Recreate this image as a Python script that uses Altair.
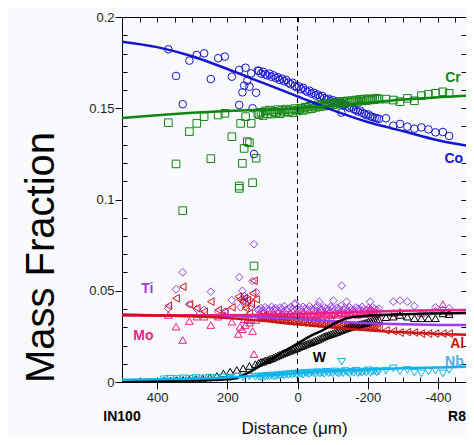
import altair as alt
import pandas as pd

# ---------------- data ----------------
elements = ["Co", "Cr", "Ti", "Mo", "Al", "W", "Nb"]
colors = ["#1414d2", "#128412", "#9b3cf0", "#ec1f86", "#cc1414", "#000000", "#10b4ec"]
shapes = ["circle", "square", "diamond", "triangle-up", "triangle-left", "triangle-up", "triangle-down"]

# dense measurement region (distance, um)
dense_d = [110, 104, 98, 92, 86, 80, 74, 68, 62, 56,
           50, 44, 38, 32, 26, 20, 14, 8, 2, -4,
           -10, -16, -22, -28, -34, -40, -46, -52, -58, -64,
           -70, -76, -82, -88, -94, -100, -106, -112, -118, -124,
           -130, -136, -142, -148, -154, -160, -166, -172, -178, -184,
           -190, -196, -202, -208, -214, -220, -226, -232]

co_dense = [0.1705, 0.1690, 0.1700, 0.1685, 0.1680, 0.1690, 0.1672, 0.1680, 0.1665, 0.1670,
            0.1655, 0.1662, 0.1648, 0.1655, 0.1640, 0.1632, 0.1640, 0.1622, 0.1615, 0.1620,
            0.1605, 0.1612, 0.1598, 0.1590, 0.1596, 0.1580, 0.1585, 0.1570, 0.1575, 0.1562,
            0.1568, 0.1555, 0.1548, 0.1552, 0.1540, 0.1545, 0.1532, 0.1538, 0.1525, 0.1530,
            0.1518, 0.1522, 0.1510, 0.1502, 0.1508, 0.1495, 0.1490, 0.1482, 0.1488, 0.1475,
            0.1470, 0.1462, 0.1466, 0.1455, 0.1452, 0.1448, 0.1445, 0.1442]
cr_dense = [0.1465, 0.1478, 0.1460, 0.1485, 0.1470, 0.1490, 0.1468, 0.1482, 0.1475, 0.1492,
            0.1470, 0.1488, 0.1478, 0.1495, 0.1480, 0.1490, 0.1475, 0.1498, 0.1485, 0.1492,
            0.1500, 0.1488, 0.1505, 0.1495, 0.1510, 0.1498, 0.1512, 0.1505, 0.1518, 0.1508,
            0.1520, 0.1512, 0.1525, 0.1515, 0.1528, 0.1520, 0.1530, 0.1522, 0.1535, 0.1525,
            0.1538, 0.1530, 0.1540, 0.1532, 0.1542, 0.1535, 0.1545, 0.1538, 0.1548, 0.1540,
            0.1550, 0.1542, 0.1552, 0.1545, 0.1550, 0.1548, 0.1555, 0.1550]
ti_dense = [0.0398, 0.0405, 0.0392, 0.0410, 0.0400, 0.0395, 0.0412, 0.0398, 0.0405, 0.0390,
            0.0408, 0.0400, 0.0415, 0.0395, 0.0402, 0.0410, 0.0398, 0.0425, 0.0400, 0.0408,
            0.0395, 0.0412, 0.0402, 0.0398, 0.0415, 0.0400, 0.0392, 0.0408, 0.0420, 0.0400,
            0.0395, 0.0410, 0.0402, 0.0398, 0.0412, 0.0405, 0.0395, 0.0408, 0.0400, 0.0418,
            0.0398, 0.0405, 0.0392, 0.0410, 0.0400, 0.0395, 0.0408, 0.0402, 0.0398, 0.0412,
            0.0400, 0.0395, 0.0405, 0.0398, 0.0410, 0.0400, 0.0395, 0.0402]
mo_dense = [0.0372, 0.0365, 0.0378, 0.0360, 0.0370, 0.0375, 0.0362, 0.0372, 0.0368, 0.0380,
            0.0365, 0.0372, 0.0360, 0.0375, 0.0368, 0.0378, 0.0362, 0.0370, 0.0375, 0.0365,
            0.0372, 0.0380, 0.0368, 0.0375, 0.0362, 0.0370, 0.0378, 0.0365, 0.0372, 0.0382,
            0.0368, 0.0375, 0.0370, 0.0380, 0.0365, 0.0372, 0.0378, 0.0368, 0.0375, 0.0382,
            0.0370, 0.0378, 0.0365, 0.0380, 0.0372, 0.0385, 0.0375, 0.0368, 0.0380, 0.0372,
            0.0385, 0.0375, 0.0380, 0.0370, 0.0388, 0.0378, 0.0382, 0.0375]
al_dense = [0.0358, 0.0350, 0.0362, 0.0348, 0.0355, 0.0345, 0.0352, 0.0342, 0.0350, 0.0340,
            0.0348, 0.0338, 0.0345, 0.0335, 0.0342, 0.0332, 0.0340, 0.0330, 0.0338, 0.0328,
            0.0335, 0.0326, 0.0332, 0.0324, 0.0330, 0.0322, 0.0328, 0.0320, 0.0326, 0.0318,
            0.0324, 0.0316, 0.0322, 0.0315, 0.0320, 0.0313, 0.0318, 0.0312, 0.0316, 0.0310,
            0.0315, 0.0309, 0.0313, 0.0308, 0.0312, 0.0306, 0.0310, 0.0305, 0.0308, 0.0303,
            0.0306, 0.0302, 0.0304, 0.0300, 0.0302, 0.0298, 0.0300, 0.0296]
w_dense = [0.0105, 0.0110, 0.0112, 0.0118, 0.0120, 0.0126, 0.0130, 0.0134, 0.0140, 0.0145,
           0.0150, 0.0155, 0.0160, 0.0164, 0.0170, 0.0172, 0.0178, 0.0182, 0.0186, 0.0192,
           0.0196, 0.0200, 0.0205, 0.0210, 0.0214, 0.0218, 0.0224, 0.0228, 0.0232, 0.0238,
           0.0244, 0.0250, 0.0254, 0.0258, 0.0262, 0.0266, 0.0270, 0.0274, 0.0280, 0.0284,
           0.0288, 0.0292, 0.0296, 0.0300, 0.0303, 0.0306, 0.0310, 0.0314, 0.0317, 0.0320,
           0.0323, 0.0326, 0.0330, 0.0332, 0.0335, 0.0338, 0.0340, 0.0342]
nb_dense = [0.0030, 0.0026, 0.0032, 0.0028, 0.0034, 0.0030, 0.0036, 0.0032, 0.0030, 0.0038,
            0.0034, 0.0040, 0.0036, 0.0042, 0.0038, 0.0044, 0.0040, 0.0046, 0.0042, 0.0048,
            0.0044, 0.0040, 0.0050, 0.0046, 0.0042, 0.0052, 0.0048, 0.0044, 0.0054, 0.0046,
            0.0050, 0.0044, 0.0056, 0.0048, 0.0052, 0.0046, 0.0058, 0.0050, 0.0046, 0.0054,
            0.0048, 0.0060, 0.0052, 0.0046, 0.0056, 0.0050, 0.0062, 0.0048, 0.0054, 0.0050,
            0.0058, 0.0052, 0.0064, 0.0050, 0.0056, 0.0060, 0.0052, 0.0058]

# sparse measurements
co_d = [368, 346, 327, 308, 287, 266, 247, 226, 207, 187,
        166, 166, 157, 152, 148, 143, 137, 132, 128, 124,
        118, 113, -125, -252, -273, -292, -313, -333, -353, -373,
        -393, -414, -432]
co_v = [0.1823, 0.1677, 0.1522, 0.1761, 0.1792, 0.1801, 0.1660, 0.1774, 0.1783, 0.1673,
        0.1518, 0.1710, 0.1587, 0.1624, 0.1722, 0.1651, 0.1618, 0.1691, 0.1500, 0.1249,
        0.1585, 0.1706, 0.1476, 0.1445, 0.1404, 0.1414, 0.1399, 0.1388, 0.1395, 0.1384,
        0.1368, 0.1370, 0.1348]

cr_d = [368, 346, 308, 287, 266, 247, 226, 207, 187, 166,
        166, 162, 157, 152, 148, 143, 137, 132, 128, 118,
        113, 327, 124, -252, -273, -292, -313, -333, -353, -373,
        -393, -414, -432]
cr_v = [0.1421, 0.1195, 0.1372, 0.1417, 0.1454, 0.1224, 0.1463, 0.1472, 0.1344, 0.1074,
        0.1061, 0.1417, 0.1198, 0.1280, 0.1454, 0.1317, 0.1311, 0.1417, 0.1092, 0.1226,
        0.1472, 0.0939, 0.0636, 0.1550, 0.1545, 0.1536, 0.1554, 0.1541, 0.1569, 0.1576,
        0.1582, 0.1590, 0.1582]

ti_d = [368, 346, 327, 308, 287, 266, 247, 226, 207, 187,
        166, 162, 157, 152, 148, 143, 137, 132, 128, 124,
        118, 113, 7, -62, -102, -126, -140, -207, -273, -292,
        -313, -333, -353, -373, -393, -414, -432]
ti_v = [0.0404, 0.0508, 0.0601, 0.0426, 0.0400, 0.0395, 0.0495, 0.0385, 0.0385, 0.0449,
        0.0574, 0.0409, 0.0500, 0.0471, 0.0413, 0.0459, 0.0449, 0.0413, 0.0553, 0.0755,
        0.0492, 0.0395, 0.0431, 0.0440, 0.0446, 0.0528, 0.0440, 0.0440, 0.0440, 0.0446,
        0.0440, 0.0416, 0.0376, 0.0376, 0.0409, 0.0396, 0.0404]

mo_d = [368, 346, 327, 308, 287, 266, 247, 226, 207, 187,
        169, 164, 157, 152, 148, 143, 137, 132, 128, 124,
        118, -207, -273, -292, -353, -393, -414, -432]
mo_v = [0.0367, 0.0303, 0.0230, 0.0334, 0.0358, 0.0358, 0.0312, 0.0358, 0.0367, 0.0330,
        0.0263, 0.0303, 0.0289, 0.0344, 0.0312, 0.0340, 0.0325, 0.0340, 0.0279, 0.0153,
        0.0340, 0.0395, 0.0378, 0.0385, 0.0378, 0.0392, 0.0426, 0.0385]

al_d = [368, 346, 327, 308, 287, 266, 247, 226, 207, 187,
        169, 164, 157, 152, 148, 143, 137, 132, 128, 124,
        118, -252, -273, -292, -313, -333, -353, -373, -393, -414,
        -432]
al_v = [0.0418, 0.0459, 0.0522, 0.0426, 0.0404, 0.0385, 0.0440, 0.0395, 0.0385, 0.0409,
        0.0468, 0.0453, 0.0440, 0.0459, 0.0404, 0.0449, 0.0376, 0.0428, 0.0486, 0.0555,
        0.0453, 0.0283, 0.0279, 0.0271, 0.0273, 0.0271, 0.0265, 0.0265, 0.0265, 0.0265,
        0.0265]

w_d = [380, 362, 344, 326, 308, 290, 270, 250, 230, 211,
       192, 173, 155, 137, 120, -252, -273, -292, -313, -333,
       -353, -373, -393, -414, -432]
w_v = [0.0008, 0.0009, 0.0010, 0.0012, 0.0014, 0.0017, 0.0020, 0.0026, 0.0033, 0.0047,
       0.0057, 0.0066, 0.0075, 0.0088, 0.0098, 0.0355, 0.0358, 0.0367, 0.0358, 0.0349,
       0.0349, 0.0349, 0.0349, 0.0376, 0.0372]

nb_d = [380, 362, 344, 326, 308, 290, 270, 250, 230, 211,
        192, 173, 155, 137, 120, -126, -252, -273, -292, -313,
        -333, -353, -373, -393, -414, -432]
nb_v = [0.0015, 0.0018, 0.0016, 0.0020, 0.0018, 0.0022, 0.0020, 0.0024, 0.0022, 0.0026,
        0.0024, 0.0028, 0.0026, 0.0030, 0.0028, 0.0111, 0.0062, 0.0075, 0.0057, 0.0066,
        0.0051, 0.0047, 0.0057, 0.0062, 0.0047, 0.0066]

# fitted curves
fit_d = [500, 400, 300, 200, 100, 0, -100, -200, -300, -400, -500]
co_fit = [0.1865, 0.1835, 0.1785, 0.1715, 0.1640, 0.1565, 0.1490, 0.1425, 0.1375, 0.1325, 0.1290]
cr_fit = [0.1447, 0.1462, 0.1475, 0.1485, 0.1492, 0.1500, 0.1515, 0.1530, 0.1548, 0.1560, 0.1570]
ti_fit = [0.0368, 0.0366, 0.0364, 0.0361, 0.0355, 0.0345, 0.0333, 0.0322, 0.0316, 0.0313, 0.0312]
mo_fit = [0.0365, 0.0365, 0.0366, 0.0366, 0.0368, 0.0372, 0.0378, 0.0385, 0.0390, 0.0393, 0.0395]
al_fit = [0.0368, 0.0365, 0.0360, 0.0350, 0.0335, 0.0316, 0.0298, 0.0283, 0.0272, 0.0263, 0.0258]
nb_fit = [0.0012, 0.0015, 0.0018, 0.0025, 0.0035, 0.0048, 0.0060, 0.0068, 0.0075, 0.0080, 0.0084]
w_fit_d = [500, 300, 200, 170, 135, 88, 40, 0, -40, -73, -110, -140, -180, -235, -350, -500]
w_fit = [0.0005, 0.0008, 0.0015, 0.0025, 0.0056, 0.0111, 0.0166, 0.0210, 0.0255, 0.0285,
         0.0325, 0.0349, 0.0360, 0.0367, 0.0374, 0.0378]

# labels
lab_text = ["Cr", "Co", "Ti", "Mo", "W", "Al", "Nb"]
lab_d = [-443, -445, 428, 439, -62, -455, -447]
lab_v = [0.1664, 0.1220, 0.0511, 0.0252, 0.0130, 0.0208, 0.0111]
lab_col = ["#128412", "#1414d2", "#9b3cf0", "#ec1f86", "#000000", "#cc1414", "#55aaee"]

x_major_ticks = [400, 200, 0, -200, -400]
x_minor_ticks = [450, 400, 350, 300, 250, 200, 150, 100, 50, 0,
                 -50, -100, -150, -200, -250, -300, -350, -400, -450]
y_major_ticks = [0, 0.05, 0.1, 0.15, 0.2]
y_minor_ticks = [0.01, 0.02, 0.03, 0.04, 0.06, 0.07, 0.08, 0.09, 0.11, 0.12,
                 0.13, 0.14, 0.16, 0.17, 0.18, 0.19]
y_right_ticks = [0.01, 0.02, 0.03, 0.04, 0.05, 0.06, 0.07, 0.08, 0.09, 0.1,
                 0.11, 0.12, 0.13, 0.14, 0.15, 0.16, 0.17, 0.18, 0.19]

# ---------------- tables ----------------
def tab(el, d, v):
    return pd.DataFrame({"d": d, "v": v, "el": el})

points = pd.concat([
    tab("Co", co_d, co_v), tab("Co", dense_d, co_dense),
    tab("Cr", cr_d, cr_v), tab("Cr", dense_d, cr_dense),
    tab("Ti", ti_d, ti_v), tab("Ti", dense_d, ti_dense),
    tab("Mo", mo_d, mo_v), tab("Mo", dense_d, mo_dense),
    tab("Al", al_d, al_v), tab("Al", dense_d, al_dense),
    tab("W", w_d, w_v), tab("W", dense_d, w_dense),
    tab("Nb", nb_d, nb_v), tab("Nb", dense_d, nb_dense),
], ignore_index=True)

fits = pd.concat([
    tab("Co", fit_d, co_fit), tab("Cr", fit_d, cr_fit), tab("Ti", fit_d, ti_fit),
    tab("Mo", fit_d, mo_fit), tab("Al", fit_d, al_fit), tab("W", w_fit_d, w_fit),
    tab("Nb", fit_d, nb_fit),
], ignore_index=True)

labels = pd.DataFrame({"t": lab_text, "d": lab_d, "v": lab_v, "c": lab_col})

FONT = "Liberation Sans"
xscale = alt.Scale(domain=[-480, 500], reverse=True, nice=False, zero=False)
yscale = alt.Scale(domain=[0, 0.2], nice=False, zero=False)
cscale = alt.Scale(domain=elements, range=colors)
sscale = alt.Scale(domain=elements, range=shapes)

x_major = alt.Axis(values=x_major_ticks, labelExpr="datum.value == 0 ? '0' : '' + datum.value",
                   tickSize=7, labelPadding=2, labelFontSize=13, labelColor="#222222", labelFont=FONT,
                   title="Distance (μm)", titleFont=FONT, titleFontSize=17, titleFontWeight="normal",
                   titleColor="#111111", titleY=51, titleBaseline="alphabetic",
                   grid=False, domainColor="black", tickColor="black")
y_major = alt.Axis(values=y_major_ticks, format=".2~f", tickSize=7, labelPadding=1,
                   labelFontSize=13, labelColor="#222222", labelFont=FONT,
                   title="Mass Fraction", titleFont=FONT, titleFontSize=40, titleFontWeight="normal",
                   titleColor="#000000", titleAngle=270, titleX=-69, titleY=240,
                   titleAlign="center", titleBaseline="alphabetic",
                   grid=False, domainColor="black", tickColor="black")
x_minor = alt.Axis(orient="bottom", values=x_minor_ticks, offset=-5, tickSize=5, labels=False,
                   domain=False, grid=False, title=None, tickColor="black")
y_minor = alt.Axis(orient="left", values=y_minor_ticks, offset=-5, tickSize=5, labels=False,
                   domain=False, grid=False, title=None, tickColor="black")
x_top = alt.Axis(orient="top", values=x_minor_ticks, offset=-5, tickSize=5, labels=False,
                 domain=False, grid=False, title=None, tickColor="black")
y_right = alt.Axis(orient="right", values=y_right_ticks, offset=-5, tickSize=5, labels=False,
                   domain=False, grid=False, title=None, tickColor="black")

pts = alt.Chart(points).mark_point(filled=False, strokeWidth=1, size=58, opacity=1, clip=True).encode(
    x=alt.X("d:Q", scale=xscale, axis=x_major),
    y=alt.Y("v:Q", scale=yscale, axis=y_major),
    color=alt.Color("el:N", scale=cscale, legend=None),
    shape=alt.Shape("el:N", scale=sscale, legend=None),
)

lines = alt.Chart(fits).mark_line(strokeWidth=2.5, interpolate="monotone", clip=True).encode(
    x=alt.X("d:Q", scale=xscale, axis=x_minor),
    y=alt.Y("v:Q", scale=yscale, axis=y_minor),
    color=alt.Color("el:N", scale=cscale, legend=None),
    detail="el:N",
)

zero = alt.Chart(pd.DataFrame({"d": [0]})).mark_rule(color="black", strokeWidth=1, strokeDash=[5, 4]).encode(
    x=alt.X("d:Q", scale=xscale, axis=None),
)

texts = alt.Chart(labels).mark_text(font=FONT, fontSize=14, fontWeight="bold", baseline="middle").encode(
    x=alt.X("d:Q", scale=xscale, axis=x_top),
    y=alt.Y("v:Q", scale=yscale, axis=y_right),
    text="t:N",
    color=alt.Color("c:N", scale=None),
)

left_name = alt.Chart(pd.DataFrame({"t": ["IN100"], "d": [500], "v": [-0.019]})).mark_text(
    font=FONT, fontSize=14, fontWeight="bold", baseline="middle", align="center", color="black"
).encode(x=alt.X("d:Q", scale=xscale, axis=None), y=alt.Y("v:Q", scale=yscale, axis=None), text="t:N")

right_name = alt.Chart(pd.DataFrame({"t": ["R8"], "d": [-480], "v": [-0.019]})).mark_text(
    font=FONT, fontSize=14, fontWeight="bold", baseline="middle", align="right", color="black"
).encode(x=alt.X("d:Q", scale=xscale, axis=None), y=alt.Y("v:Q", scale=yscale, axis=None), text="t:N")

chart = alt.layer(pts, lines, zero, texts, left_name, right_name).resolve_axis(
    x="independent", y="independent"
).properties(
    width=344, height=365,
    autosize=alt.AutoSizeParams(type="none"),
    padding={"left": 114, "top": 9, "right": 0, "bottom": 55},
    background="#f8fafd",
).configure_view(stroke="black", strokeWidth=1)

chart.save("out.html", embed_options={"renderer": "svg", "actions": False})
